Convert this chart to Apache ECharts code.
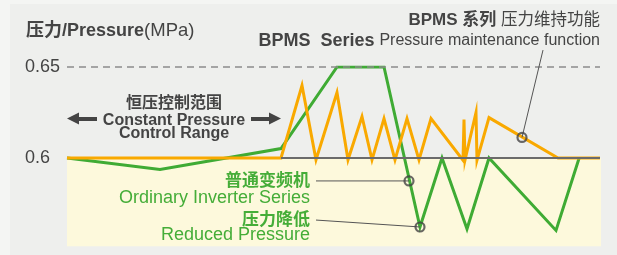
<!DOCTYPE html>
<html>
<head>
<meta charset="utf-8">
<script src="https://cdn.jsdelivr.net/npm/echarts@6/dist/echarts.min.js"></script>
<style>
  html, body { margin: 0; padding: 0; background: #f4f5f3; }
  #chart { width: 617px; height: 255px; }
</style>
</head>
<body>
<div id="chart"></div>
<script>
// time axis (arbitrary units), pressure in MPa
const orangeX = [0, 214, 235, 249, 270, 281, 295, 305, 317, 328, 340, 352, 364, 396, 397, 398, 409, 410, 422, 491, 533];
const orangeY = [0.6, 0.6, 0.6398, 0.599, 0.636, 0.599, 0.6228, 0.599, 0.6217, 0.599, 0.6217, 0.599, 0.6217, 0.5988, 0.6212, 0.5988, 0.625, 0.5988, 0.6222, 0.6, 0.6];

const greenX = [0, 93, 214, 270, 317, 353, 375, 400, 422, 489, 512];
const greenY = [0.6, 0.5937, 0.6052, 0.65, 0.65, 0.5621, 0.6, 0.561, 0.6, 0.5602, 0.5997];

// y axis ticks
const yTicks = [0.6, 0.65];

// annotation circles and leader lines
const circles = [[342, 0.5874], [353, 0.5621], [455, 0.6113]];
const leaderOrdinary = [[249, 0.5874], [342, 0.5874]];
const leaderReduced = [[249, 0.5659], [353, 0.5621]];
const leaderBpms = [[455, 0.6113], [476, 0.6593]];

// constant pressure range
const rangeStart = 0;
const rangeEnd = 214;
const xEnd = 533;

const F = '"Liberation Sans", "Noto Sans CJK SC", sans-serif';
const DARK = '#444444';
const GREEN = '#3fab34';
const GREEN_TXT = '#45ad38';
const ORANGE = '#f9a900';

let chart = echarts.init(document.getElementById('chart'), null, { renderer: 'canvas' });

function zip(xs, ys) {
  return xs.map((x, i) => [x, ys[i]]);
}

function leader(data) {
  return {
    type: 'line',
    data,
    z: 6,
    clip: false,
    silent: true,
    showSymbol: false,
    symbol: 'none',
    lineStyle: { color: '#555', width: 1 },
    animation: false
  };
}

function txt(x, y, text, align, rich, fill) {
  return {
    type: 'text',
    x, y,
    z: 50,
    silent: true,
    style: { text, align, verticalAlign: 'middle', rich, fill: fill || DARK, font: '16px ' + F }
  };
}

const dashStyle = { color: '#8c8c8c', width: 1.5, type: [7, 5] };

let option = {
  backgroundColor: '#f4f5f3',
  animation: false,
  grid: { left: 67, top: 67, width: 534, height: 182 },
  xAxis: { type: 'value', min: 0, max: 534, show: false },
  yAxis: {
    type: 'value',
    min: 0.55,
    max: 0.65,
    interval: 0.05,
    axisLine: { show: false },
    axisTick: { show: false },
    splitLine: { show: false },
    axisLabel: {
      align: 'left',
      margin: 42,
      fontSize: 18,
      fontFamily: F,
      color: DARK,
      formatter: v => {
        let hit = yTicks.find(t => Math.abs(t - v) < 1e-6);
        return hit === undefined ? '' : String(hit);
      }
    }
  },
  graphic: [
    { type: 'rect', shape: { x: 10, y: 4, width: 607, height: 251 }, style: { fill: '#eeefed' }, z: -100, silent: true },
    txt(26, 31, '{b|压力/Pressure}{n|(MPa)}', 'left', {
      b: { fontWeight: 'bold', fontSize: 18, fontFamily: F, fill: DARK },
      n: { fontSize: 18.5, fontFamily: F, fill: DARK }
    }),
    txt(600, 20, '{b|BPMS 系列 }{n|压力维持功能}', 'right', {
      b: { fontWeight: 'bold', fontSize: 17, fontFamily: F, fill: DARK },
      n: { fontSize: 16.5, fontFamily: F, fill: DARK }
    }),
    txt(600, 41, '{b|BPMS  Series }{n|Pressure maintenance function}', 'right', {
      b: { fontWeight: 'bold', fontSize: 18, fontFamily: F, fill: DARK },
      n: { fontSize: 16, fontFamily: F, fill: DARK }
    }),
    txt(174, 103.5, '{b|恒压控制范围}', 'center', { b: { fontWeight: 'bold', fontSize: 16, fontFamily: F, fill: DARK } }),
    txt(174, 121, '{b|Constant Pressure}', 'center', { b: { fontWeight: 'bold', fontSize: 16, fontFamily: F, fill: DARK } }),
    txt(174, 133.5, '{b|Control Range}', 'center', { b: { fontWeight: 'bold', fontSize: 16, fontFamily: F, fill: DARK } }),
    txt(310, 181.5, '{b|普通变频机}', 'right', { b: { fontWeight: 'bold', fontSize: 17, fontFamily: F, fill: GREEN_TXT } }),
    txt(310, 198.5, '{n|Ordinary Inverter Series}', 'right', { n: { fontSize: 18, fontFamily: F, fill: GREEN_TXT } }),
    txt(310, 220, '{b|压力降低}', 'right', { b: { fontWeight: 'bold', fontSize: 17, fontFamily: F, fill: GREEN_TXT } }),
    txt(310, 235.5, '{n|Reduced Pressure}', 'right', { n: { fontSize: 18, fontFamily: F, fill: GREEN_TXT } })
  ],
  series: [
    {
      // yellow area below 0.6
      type: 'line',
      data: [],
      z: 1,
      silent: true,
      markArea: {
        silent: true,
        itemStyle: { color: '#fdf9dc' },
        data: [[{ coord: [0, 0.6] }, { coord: [534, 0.5515] }]]
      }
    },
    {
      // guide lines and range arrows
      type: 'line',
      data: [],
      z: 2,
      clip: false,
      silent: true,
      markLine: {
        silent: true,
        symbol: 'none',
        label: { show: false },
        data: [
          [{ coord: [rangeStart, 0.6593], lineStyle: dashStyle }, { coord: [rangeStart, 0.5515] }],
          [{ coord: [rangeEnd, 0.6593], lineStyle: dashStyle }, { coord: [rangeEnd, 0.5515] }],
          [{ coord: [rangeStart, 0.65], lineStyle: dashStyle }, { coord: [xEnd, 0.65] }],
          [{ coord: [rangeEnd, 0.6], lineStyle: { color: '#6b6b6b', width: 2, type: 'solid' } }, { coord: [xEnd, 0.6] }],
          [{ coord: [30, 0.6217], symbol: 'none', lineStyle: { color: DARK, width: 4, type: 'solid' } },
           { coord: [rangeStart + 6, 0.6217], symbol: 'triangle', symbolSize: [12, 12] }],
          [{ coord: [184, 0.6217], symbol: 'none', lineStyle: { color: DARK, width: 4, type: 'solid' } },
           { coord: [rangeEnd - 6, 0.6217], symbol: 'triangle', symbolSize: [12, 12] }]
        ]
      }
    },
    {
      name: '普通变频机',
      type: 'line',
      data: zip(greenX, greenY),
      z: 3,
      showSymbol: false,
      symbol: 'none',
      lineStyle: { color: GREEN, width: 3, join: 'miter', miterLimit: 10 }
    },
    {
      name: 'BPMS',
      type: 'line',
      data: zip(orangeX, orangeY),
      z: 4,
      showSymbol: false,
      symbol: 'none',
      lineStyle: { color: ORANGE, width: 3, join: 'miter', miterLimit: 10 }
    },
    leader(leaderOrdinary),
    leader(leaderReduced),
    leader(leaderBpms),
    {
      type: 'scatter',
      data: circles,
      z: 7,
      silent: true,
      symbol: 'circle',
      symbolSize: 9,
      itemStyle: { color: 'rgba(0,0,0,0)', borderColor: DARK, borderWidth: 2.2 }
    }
  ]
};

chart.setOption(option);
</script>
</body>
</html>
